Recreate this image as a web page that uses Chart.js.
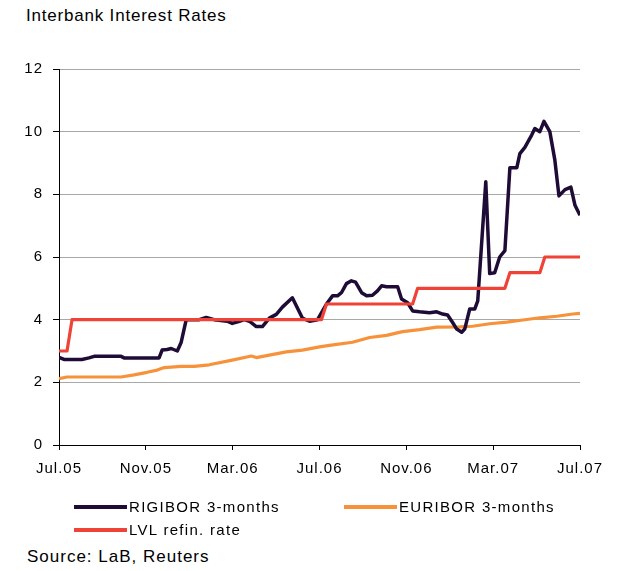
<!DOCTYPE html>
<html>
<head>
<meta charset="utf-8">
<script src="https://cdn.jsdelivr.net/npm/chart.js@4/dist/chart.umd.min.js"></script>
<style>
  html, body { margin: 0; padding: 0; background: #fff; }
  body { width: 629px; height: 571px; position: relative; overflow: hidden;
         font-family: "Liberation Sans", Arial, sans-serif; color: #000; }
  #wrap { position: absolute; left: 0; top: 0; width: 629px; height: 500px; }
  .title { position: absolute; left: 26px; top: 6px; font-size: 17px; letter-spacing: 0.8px; white-space: nowrap; }
  .legend-item { position: absolute; height: 20px; white-space: nowrap; font-size: 15px; letter-spacing: 1.3px; }
  .legend-item .swatch { position: absolute; left: 0; top: 8px; width: 53px; height: 4px; }
  .legend-item .label { position: absolute; left: 55px; top: 1px; }
  .source { position: absolute; left: 27px; top: 547px; font-size: 17px; letter-spacing: 1px; white-space: nowrap; }
</style>
</head>
<body>
<div class="title">Interbank Interest Rates</div>
<div id="wrap"><canvas id="chart" width="629" height="500"></canvas></div>
<div id="legend"></div>
<div class="source">Source: LaB, Reuters</div>
<script>
// Months elapsed since July 2005 (x) and rates in percent (y)
const xTickLabels = ["Jul.05", "Nov.05", "Mar.06", "Jul.06", "Nov.06", "Mar.07", "Jul.07"];

const rigiborMonths = [0, 0.23, 1.06, 1.38, 1.62, 2.86, 3.0, 4.61, 4.75, 4.98,
  5.17, 5.45, 5.63, 5.86, 6.46, 6.78, 7.15, 7.75, 7.98, 8.31,
  8.54, 8.77, 9.09, 9.37, 9.69, 10.01, 10.29, 10.75, 11.21, 11.54,
  11.91, 12.32, 12.6, 12.83, 13.01, 13.24, 13.47, 13.66, 13.94, 14.17,
  14.44, 14.67, 14.86, 15.09, 15.6, 15.78, 16.06, 16.29, 16.61, 17.07,
  17.4, 17.67, 17.9, 18.14, 18.32, 18.55, 18.69, 18.92, 19.15, 19.29,
  19.66, 19.84, 20.07, 20.3, 20.54, 20.77, 21.09, 21.23, 21.46, 21.78,
  21.92, 22.15, 22.34, 22.61, 22.84, 23.03, 23.31, 23.58, 23.77, 24];
const rigiborValues = [2.8, 2.73, 2.73, 2.78, 2.83, 2.83, 2.78, 2.78, 3.03, 3.05,
  3.08, 3.0, 3.28, 4.0, 4.0, 4.07, 4.0, 3.95, 3.88, 3.95,
  4.0, 3.95, 3.78, 3.78, 4.05, 4.17, 4.4, 4.7, 4.05, 3.95,
  4.0, 4.5, 4.76, 4.76, 4.86, 5.15, 5.24, 5.2, 4.86, 4.76,
  4.78, 4.92, 5.08, 5.05, 5.05, 4.66, 4.54, 4.28, 4.25, 4.22,
  4.25, 4.18, 4.15, 3.9, 3.7, 3.6, 3.7, 4.34, 4.34, 4.6,
  8.4, 5.47, 5.5, 6.0, 6.2, 8.85, 8.85, 9.3, 9.5, 9.9,
  10.1, 10.0, 10.33, 10.0, 9.1, 7.95, 8.15, 8.23, 7.65, 7.33];

const euriborMonths = [0, 0.37, 2.86, 3.46, 4.06, 4.52, 4.85, 5.63, 6.23, 6.92,
  7.98, 8.86, 9.09, 9.69, 10.47, 11.21, 12.0, 12.46, 13.52, 14.31,
  15.09, 15.83, 16.61, 17.4, 18.46, 19.06, 19.84, 20.63, 21.37, 22.15,
  22.93, 23.67, 24];
const euriborValues = [2.12, 2.17, 2.17, 2.24, 2.32, 2.39, 2.47, 2.51, 2.51, 2.56,
  2.71, 2.84, 2.79, 2.87, 2.97, 3.03, 3.13, 3.18, 3.28, 3.43,
  3.5, 3.62, 3.68, 3.76, 3.77, 3.79, 3.87, 3.92, 3.99, 4.06,
  4.11, 4.18, 4.2];

const refinMonths = [0, 0.37, 0.6, 12.09, 12.32, 16.29, 16.52, 20.54, 20.77, 22.15, 22.38, 24];
const refinValues = [3.0, 3.0, 4.0, 4.0, 4.5, 4.5, 5.0, 5.0, 5.5, 5.5, 6.0, 6.0];

const seriesNames = ["RIGIBOR 3-months", "EURIBOR 3-months", "LVL refin. rate"];
const seriesColors = ["#1e0b36", "#f7923a", "#ef4338"];

function toPoints(xs, ys) {
  return xs.map((x, i) => ({ x: x, y: ys[i] }));
}

// wider glyph spacing for the axis labels
const spacingPlugin = {
  id: 'spacing',
  beforeDraw(chart) { chart.ctx.letterSpacing = '1px'; }
};

const tickFont = { family: '"Liberation Sans", Arial, sans-serif', size: 15 };

new Chart(document.getElementById('chart'), {
  type: 'line',
  data: {
    datasets: [
      { label: seriesNames[0], data: toPoints(rigiborMonths, rigiborValues),
        borderColor: seriesColors[0], borderWidth: 3.5, order: 1 },
      { label: seriesNames[1], data: toPoints(euriborMonths, euriborValues),
        borderColor: seriesColors[1], borderWidth: 3.2, order: 2 },
      { label: seriesNames[2], data: toPoints(refinMonths, refinValues),
        borderColor: seriesColors[2], borderWidth: 3.2, order: 0 }
    ]
  },
  options: {
    responsive: false,
    animation: false,
    devicePixelRatio: 1,
    layout: { padding: { top: 69, right: 49, bottom: 0, left: 0 } },
    elements: { point: { radius: 0 }, line: { tension: 0, fill: false, borderJoinStyle: 'round', borderCapStyle: 'butt' } },
    plugins: { legend: { display: false }, tooltip: { enabled: false }, title: { display: false } },
    scales: {
      x: {
        type: 'linear', min: 0, max: 24,
        afterFit(scale) { scale.height = 55; },
        ticks: {
          stepSize: 4, autoSkip: false, maxRotation: 0, color: '#000', font: tickFont, padding: 10,
          callback: (v) => xTickLabels[Math.round(v / 4)]
        },
        grid: { drawOnChartArea: false, drawTicks: true, tickLength: 5, color: '#000', lineWidth: 1 },
        border: { color: '#000', width: 1 }
      },
      y: {
        min: 0, max: 12,
        afterFit(scale) { scale.width = 59; },
        ticks: { stepSize: 2, color: '#000', font: tickFont, padding: 10 },
        grid: { color: '#a8a8a8', lineWidth: 1, tickLength: 6, tickColor: '#000' },
        border: { color: '#000', width: 1 }
      }
    }
  },
  plugins: [spacingPlugin]
});

// legend below the plot
const legendPos = [[74, 497], [344, 497], [74, 520]];
const legend = document.getElementById('legend');
seriesNames.forEach((name, i) => {
  const item = document.createElement('div');
  item.className = 'legend-item';
  item.style.left = legendPos[i][0] + 'px';
  item.style.top = legendPos[i][1] + 'px';
  const sw = document.createElement('div');
  sw.className = 'swatch';
  sw.style.background = seriesColors[i];
  const lb = document.createElement('div');
  lb.className = 'label';
  lb.textContent = name;
  item.appendChild(sw);
  item.appendChild(lb);
  legend.appendChild(item);
});
</script>
</body>
</html>
